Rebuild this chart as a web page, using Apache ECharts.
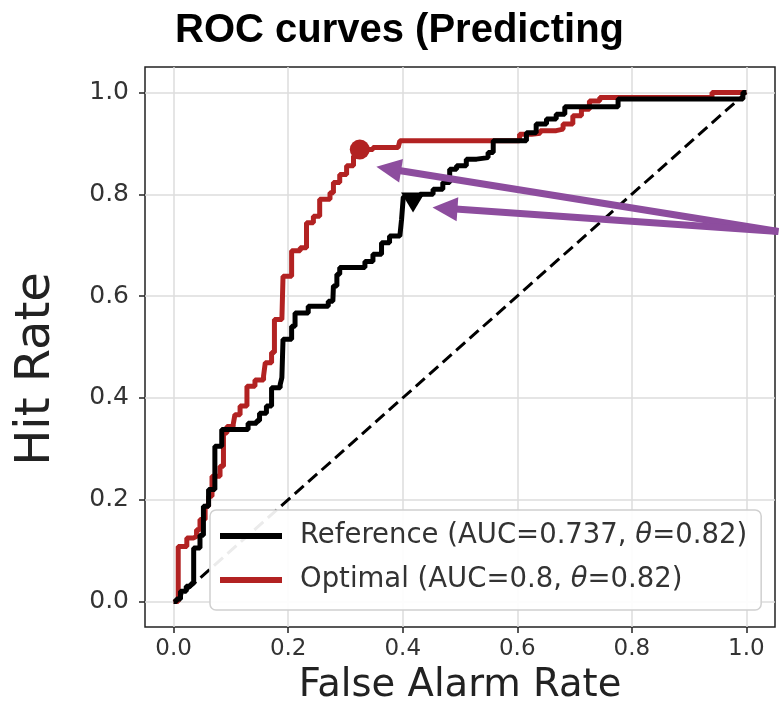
<!DOCTYPE html>
<html>
<head>
<meta charset="utf-8">
<script src="https://cdn.jsdelivr.net/npm/echarts@6/dist/echarts.min.js"></script>
</head>
<body style="margin:0">
<div id="main" style="width:779px;height:720px"></div>
<script>
// tick positions on both axes
const ticks = [0, 0.2, 0.4, 0.6, 0.8, 1.0];

// Reference ROC curve [false alarm rate, hit rate]
const refCurve = [
  [0, 0], [0.005, 0.005], [0.012, 0.012], [0.012, 0.02], [0.022, 0.02], [0.022, 0.03],
  [0.03, 0.035], [0.035, 0.05], [0.035, 0.105], [0.046, 0.115], [0.046, 0.13], [0.052, 0.15],
  [0.052, 0.187], [0.061, 0.22], [0.072, 0.246], [0.072, 0.305], [0.084, 0.338], [0.125, 0.338],
  [0.13, 0.35], [0.145, 0.355], [0.15, 0.37], [0.162, 0.384], [0.171, 0.42], [0.186, 0.426],
  [0.189, 0.44], [0.191, 0.515], [0.206, 0.541], [0.212, 0.567], [0.235, 0.58], [0.27, 0.59],
  [0.278, 0.59], [0.279, 0.62], [0.285, 0.643], [0.29, 0.656], [0.322, 0.656], [0.334, 0.668],
  [0.348, 0.682], [0.363, 0.705], [0.377, 0.718], [0.395, 0.72], [0.398, 0.751], [0.401, 0.795],
  [0.43, 0.8], [0.453, 0.81], [0.47, 0.823], [0.482, 0.849], [0.494, 0.856], [0.511, 0.869],
  [0.529, 0.872], [0.549, 0.882], [0.558, 0.905], [0.612, 0.905], [0.616, 0.921], [0.633, 0.938],
  [0.651, 0.948], [0.668, 0.957], [0.683, 0.972], [0.76, 0.972], [0.776, 0.987], [0.994, 0.987],
  [0.994, 1.0], [1, 1]
];

// Optimal ROC curve
const optCurve = [
  [0, 0], [0.008, 0.015], [0.008, 0.108], [0.023, 0.108], [0.023, 0.125], [0.035, 0.128],
  [0.04, 0.141], [0.046, 0.161], [0.055, 0.187], [0.061, 0.207], [0.067, 0.246], [0.081, 0.266],
  [0.087, 0.302], [0.087, 0.331], [0.093, 0.344], [0.104, 0.348], [0.107, 0.367], [0.116, 0.384],
  [0.128, 0.423], [0.142, 0.435], [0.157, 0.443], [0.16, 0.469], [0.171, 0.489], [0.176, 0.554],
  [0.189, 0.554], [0.191, 0.639], [0.2, 0.639], [0.206, 0.689], [0.221, 0.695], [0.232, 0.744],
  [0.244, 0.757], [0.255, 0.79], [0.273, 0.803], [0.279, 0.823], [0.29, 0.839], [0.302, 0.856],
  [0.314, 0.875], [0.325, 0.888], [0.348, 0.892], [0.392, 0.892], [0.395, 0.905], [0.604, 0.905],
  [0.604, 0.918], [0.625, 0.92], [0.64, 0.925], [0.668, 0.928], [0.68, 0.938], [0.697, 0.954],
  [0.712, 0.967], [0.726, 0.983], [0.744, 0.99], [0.94, 0.99], [0.94, 1.0], [1, 1]
];

const chance = [[0, 0], [1, 1]];
const refPoint = [[0.418, 0.784]];
const optPoint = [[0.325, 0.888]];

// purple callout arrows (data coords), all from one tail
const arrowTail = [1.056, 0.727];
const arrowTips = [[0.354, 0.854], [0.452, 0.774]];

const legendText = {
  Reference: ['Reference (AUC=0.737, ', '=0.82)'],
  Optimal: ['Optimal (AUC=0.8, ', '=0.82)']
};

const chart = echarts.init(document.getElementById('main'));

const axisCommon = {
  type: 'value',
  min: -0.05,
  max: 1.05,
  axisLine: { show: false, onZero: false },
  axisTick: { show: true, length: 6, customValues: ticks, lineStyle: { color: '#222', width: 1.5 } },
  splitLine: { show: true, lineStyle: { color: '#dcdcdc', width: 1.5 } },
  nameLocation: 'middle'
};

const legFont = 27.5;

chart.setOption({
  animation: false,
  title: {
    text: 'ROC curves (Predicting',
    left: 170,
    top: 6,
    textStyle: { fontFamily: 'Liberation Sans', fontWeight: 'bold', fontSize: 40, color: '#000' }
  },
  grid: {
    left: 145, right: 4, top: 67, bottom: 93,
    show: true, borderColor: '#222', borderWidth: 1.5, backgroundColor: '#fff'
  },
  legend: {
    orient: 'vertical',
    left: 210,
    top: 510,
    padding: [12, 14, 16, 10],
    itemGap: 16,
    itemWidth: 62,
    itemHeight: 6,
    data: [
      { name: 'Reference', icon: 'rect' },
      { name: 'Optimal', icon: 'rect' }
    ],
    backgroundColor: 'rgba(255,255,255,0.92)',
    borderColor: '#d0d0d0',
    borderWidth: 1.5,
    borderRadius: 6,
    formatter: name => `{n|${legendText[name][0]}}{i|θ}{n|${legendText[name][1]}}`,
    textStyle: {
      fontFamily: 'DejaVu Sans', fontSize: legFont, color: '#333', padding: [0, 0, 0, 13],
      rich: {
        n: { fontFamily: 'DejaVu Sans', fontSize: legFont, color: '#333', lineHeight: 30 },
        i: { fontFamily: 'DejaVu Sans', fontSize: legFont, fontStyle: 'italic', color: '#333', lineHeight: 30 }
      }
    }
  },
  xAxis: Object.assign({}, axisCommon, {
    name: 'False Alarm Rate',
    nameGap: 39,
    nameTextStyle: { fontFamily: 'DejaVu Sans', fontSize: 38.5, color: '#222' },
    axisLabel: {
      customValues: ticks, margin: 11,
      formatter: v => v.toFixed(1),
      fontFamily: 'DejaVu Sans', fontSize: 23, color: '#333'
    }
  }),
  yAxis: Object.assign({}, axisCommon, {
    name: 'Hit Rate',
    nameGap: 84,
    nameTextStyle: { fontFamily: 'DejaVu Sans', fontSize: 48, color: '#222', padding: [0, 44, 0, 0] },
    axisLabel: {
      customValues: ticks, margin: 16,
      formatter: v => v.toFixed(1),
      fontFamily: 'DejaVu Sans', fontSize: 25, color: '#333'
    }
  }),
  series: [
    {
      type: 'line', data: chance, symbol: 'none', silent: true,
      lineStyle: { color: '#000', width: 3, type: [12, 6] }, z: 1
    },
    {
      name: 'Optimal', type: 'line', data: optCurve, symbol: 'none', step: 'end',
      lineStyle: { color: '#b22222', width: 5 }, itemStyle: { color: '#b22222' }, z: 2
    },
    {
      name: 'Reference', type: 'line', data: refCurve, symbol: 'none', step: 'end',
      lineStyle: { color: '#000', width: 5 }, itemStyle: { color: '#000' }, z: 3
    },
    {
      type: 'scatter', data: optPoint, symbol: 'circle', symbolSize: 20,
      itemStyle: { color: '#b22222', opacity: 1 }, z: 4
    },
    {
      type: 'scatter', data: refPoint, symbol: 'triangle', symbolRotate: 180, symbolSize: [24, 20],
      itemStyle: { color: '#000', opacity: 1 }, z: 4
    }
  ]
});

// callout arrows, positioned through the grid's own scales
const purple = '#8d4d9e';
const tail = chart.convertToPixel({ gridIndex: 0 }, arrowTail);
const arrows = [];
arrowTips.forEach(t => {
  const tip = chart.convertToPixel({ gridIndex: 0 }, t);
  const dx = tip[0] - tail[0], dy = tip[1] - tail[1];
  const len = Math.sqrt(dx * dx + dy * dy);
  const ux = dx / len, uy = dy / len;
  const headLen = 25, headHalf = 12;
  const bx = tip[0] - ux * headLen, by = tip[1] - uy * headLen;
  arrows.push({
    type: 'line', z: 100,
    shape: { x1: tail[0], y1: tail[1], x2: bx + ux * 2, y2: by + uy * 2 },
    style: { stroke: purple, lineWidth: 7 }
  });
  arrows.push({
    type: 'polygon', z: 100,
    shape: { points: [[tip[0], tip[1]], [bx - uy * headHalf, by + ux * headHalf], [bx + uy * headHalf, by - ux * headHalf]] },
    style: { fill: purple }
  });
});
chart.setOption({ graphic: arrows });
</script>
</body>
</html>
